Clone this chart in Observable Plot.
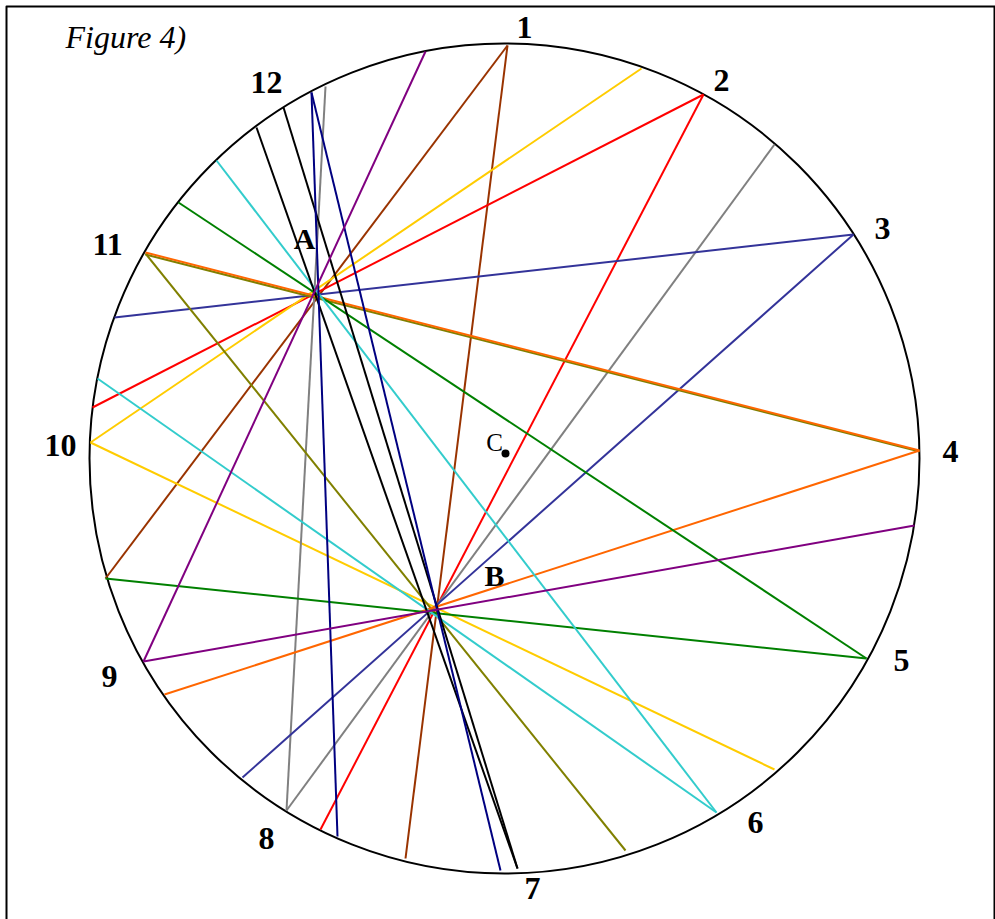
<!DOCTYPE html>
<html>
<head>
<meta charset="utf-8">
<script src="https://cdn.jsdelivr.net/npm/d3@7"></script>
<script src="https://cdn.jsdelivr.net/npm/@observablehq/plot@0.6"></script>
<style>html,body{margin:0;padding:0;background:#fff;overflow:hidden}svg{display:block}</style>
</head>
<body>
<div id="chart"></div>
<script>
const chordColor = ["#993300","#993300","#ff0000","#ff0000","#ffcc00","#ffcc00","#808080","#808080","#333399","#333399","#808000","#808000","#ff6600","#ff6600","#008000","#008000","#33cccc","#33cccc","#000000","#000000","#000080","#000080","#800080","#800080"];
const chordX1 = [507,507,703,703,641,90,774,325,853,853,145,145,145,919,866,866,716,716,517,517,311,311,425,143];
const chordY1 = [45,45,94,94,68,442,144,86,234,234,254,253,252,450,658,658,812,812,868,868,92,92,51,661];
const chordX2 = [105,405,92,320,90,774,286,286,114,242,919,625,919,164,178,105,216,97,256,283,337,500,143,914];
const chordY2 = [578,858,407,829,442,769,810,810,317,777,451,850,450,694,202,578,160,378,127,107,836,870,661,525];

const hourLabel = ["1","2","3","4","5","6","7","8","9","10","11","12"];
const hourX = [524,721,882,950,901,755,532,266,109,60,107,266];
const hourY = [27,80,228,451,660,822,888,838,676,445,244,82];

const pointLabel = ["A","B"];
const pointX = [304,494];
const pointY = [239,576];

const centerX = [504];
const centerY = [458];
const markerX = [505];
const markerY = [453];

const frameX = [6,994,994,6,6];
const frameY = [6,6,930,930,6];

const chords = chordColor.map((c,i)=>({c,x1:chordX1[i],y1:chordY1[i],x2:chordX2[i],y2:chordY2[i]}));
const hours = hourLabel.map((t,i)=>({t,x:hourX[i],y:hourY[i]}));
const points = pointLabel.map((t,i)=>({t,x:pointX[i],y:pointY[i]}));
const serif = "'Liberation Serif', 'Times New Roman', serif";

const plot = Plot.plot({
  width: 995, height: 919,
  margin: 0,
  style: {background: "#fff"},
  x: {domain: [0,995], range: [0,995], axis: null},
  y: {domain: [0,919], range: [0,919], axis: null},
  marks: [
    Plot.line(frameX.map((x,i)=>({x,y:frameY[i]})), {x:"x", y:"y", stroke:"#000", strokeWidth:2}),
    Plot.dot(centerX.map((x,i)=>({x,y:centerY[i]})), {x:"x", y:"y", r:415, stroke:"#000", strokeWidth:2, fill:"none"}),
    Plot.link(chords, {x1:"x1", y1:"y1", x2:"x2", y2:"y2", stroke:"c", strokeWidth:2}),
    Plot.dot(markerX.map((x,i)=>({x,y:markerY[i]})), {x:"x", y:"y", r:4, fill:"#000"}),
    Plot.text(hours, {x:"x", y:"y", text:"t", fontSize:32, fontWeight:"bold", fontFamily:serif, fill:"#000"}),
    Plot.text(points, {x:"x", y:"y", text:"t", fontSize:30, fontWeight:"bold", fontFamily:serif, fill:"#000"}),
    Plot.text(["C"], {x:[494], y:[442], text:d=>d, fontSize:25, fontFamily:serif, fill:"#000"}),
    Plot.text(["Figure 4)"], {x:[65], y:[37], text:d=>d, textAnchor:"start", fontSize:32, fontStyle:"italic", fontFamily:serif, fill:"#000"})
  ]
});
plot.setAttribute("style", "background:#fff;overflow:hidden");
document.getElementById("chart").appendChild(plot);
</script>
</body>
</html>
